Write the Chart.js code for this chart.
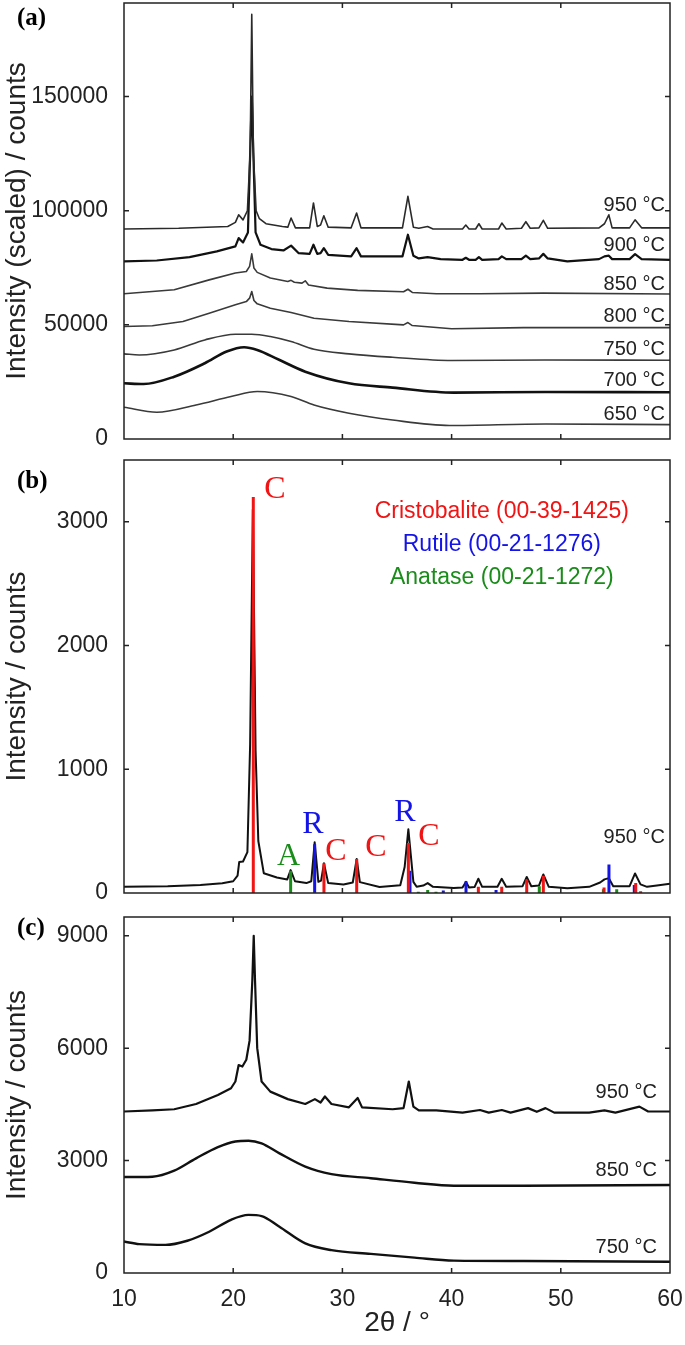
<!DOCTYPE html>
<html>
<head>
<meta charset="utf-8">
<script src="https://cdn.jsdelivr.net/npm/chart.js@4.4.1/dist/chart.umd.min.js"></script>
<style>
  body { margin: 0; background: #fff; }
  #wrap { position: relative; width: 685px; height: 1345px; overflow: hidden; }
  .panel { position: absolute; left: 0; width: 685px; }
  .tag { position: absolute; font: bold 25px "Liberation Serif", "Times New Roman", serif; line-height: 1; color: #000; }
</style>
</head>
<body>
<div id="wrap">
  <div class="panel" style="top:0;height:455px"><canvas id="chartA"></canvas></div>
  <div class="panel" style="top:450px;height:460px"><canvas id="chartB"></canvas></div>
  <div class="panel" style="top:905px;height:440px"><canvas id="chartC"></canvas></div>
  <div class="tag" style="left:17px;top:4px">(a)</div>
  <div class="tag" style="left:17px;top:467px">(b)</div>
  <div class="tag" style="left:17px;top:914px">(c)</div>
</div>
<script>
// ---- panel (a): scaled patterns, 650-950 °C ----
let a950x = [10, 15, 19.5, 20.2, 20.5, 20.9, 21.3, 21.55, 21.7, 21.85, 22.1, 22.4, 23.0, 24.5, 25.0, 25.3, 25.7, 27.0, 27.35, 27.7, 28.0, 28.3, 28.7, 30.8, 31.3, 31.7, 35.5, 36.0, 36.5, 37.0, 37.8, 38.3, 41.0, 41.3, 41.6, 42.2, 42.5, 42.8, 44.3, 44.6, 45.0, 46.4, 46.8, 47.2, 48.0, 48.4, 48.8, 53.5, 54.0, 54.4, 54.7, 56.3, 56.8, 57.4, 60];
let a950y = [92000, 92300, 93100, 94900, 98200, 96000, 100000, 125000, 186000, 125000, 100000, 96500, 94300, 93100, 92800, 96800, 92500, 92500, 103400, 93100, 93700, 97800, 92800, 92500, 99000, 92500, 92500, 106300, 92800, 92300, 93100, 92000, 92000, 93700, 92000, 92000, 94300, 92000, 92000, 94600, 92000, 92300, 95200, 92300, 92500, 95800, 92300, 92500, 94300, 98200, 92500, 92500, 96000, 92500, 92500];

let a900x = [10, 13, 16, 18.5, 20.2, 20.5, 20.9, 21.35, 21.7, 22.05, 22.5, 23.5, 24.6, 25.3, 26.0, 27.0, 27.35, 27.7, 28.0, 28.3, 28.7, 30.8, 31.3, 31.7, 35.5, 36.0, 36.5, 37.0, 37.8, 39.0, 41.0, 41.3, 41.6, 42.2, 42.5, 42.8, 44.3, 44.6, 45.0, 46.4, 46.8, 47.2, 48.0, 48.4, 48.8, 50.6, 53.5, 54.0, 54.4, 54.7, 56.3, 56.8, 57.4, 60];
let a900y = [77800, 78200, 79700, 82200, 84400, 88000, 86100, 90500, 150000, 90500, 85100, 83200, 82600, 84700, 81400, 81100, 85100, 81100, 81400, 83600, 80700, 80000, 83600, 80000, 80000, 89500, 80300, 79100, 79700, 78800, 78500, 79400, 78500, 78500, 79700, 78500, 78800, 80000, 78800, 78800, 80300, 78800, 79100, 81100, 79100, 77800, 78800, 80000, 80300, 78800, 78800, 81000, 78800, 78500];

let a850x = [10, 14.6, 17.8, 20.2, 21.2, 21.5, 21.7, 21.9, 22.2, 23.4, 25.0, 25.3, 25.6, 26.3, 26.6, 26.9, 28.6, 31.4, 35.6, 36.0, 36.4, 38.6, 42.6, 48.4, 60];
let a850y = [63600, 65400, 69700, 72700, 73400, 75600, 81100, 74900, 73000, 70500, 69000, 69500, 68700, 68300, 69300, 67500, 66100, 65100, 64500, 65600, 64200, 63600, 63600, 63900, 63500];

let a800x = [10, 12.6, 15.4, 17.8, 20.2, 21.2, 21.5, 21.7, 21.9, 22.2, 23.4, 25.3, 27.4, 30.6, 35.6, 36.0, 36.4, 40.0, 46.6, 60];
let a800y = [49300, 49600, 51500, 55100, 58800, 60200, 61700, 64600, 60700, 59200, 57300, 55400, 52900, 51500, 50000, 51000, 49700, 48300, 48800, 48800];

let a750x = [10, 11.4, 14.6, 17.4, 20.2, 21.7, 23.4, 25.3, 27.4, 30.6, 34.6, 40.0, 48.6, 60];
let a750y = [37300, 36800, 39000, 43400, 45900, 45900, 44900, 42700, 39300, 37300, 35800, 34400, 34600, 34500];

let a700x = [10, 11.8, 14.6, 17.4, 19.4, 21.0, 22.2, 24.2, 26.6, 30.6, 34.6, 40.2, 48.6, 60];
let a700y = [24400, 24100, 27300, 33200, 38300, 40200, 39000, 34700, 29500, 24400, 22500, 20300, 20600, 20500];

let a650x = [10, 13.0, 16.6, 19.8, 22.2, 25.3, 27.4, 30.6, 34.6, 39.8, 48.6, 60];
let a650y = [13900, 11700, 14900, 18600, 20800, 18600, 14900, 11300, 8300, 5900, 6600, 6300];

let tempsA = ['950 °C', '900 °C', '850 °C', '800 °C', '750 °C', '700 °C', '650 °C'];
let tempYA = [102400, 84650, 67850, 53570, 39250, 25750, 10950];
let yTicksA = [0, 50000, 100000, 150000];

// ---- panel (b): 950 °C pattern with reference cards ----
let b950x = [10, 14, 17, 19, 20.0, 20.4, 20.55, 20.9, 21.3, 21.55, 21.8, 22.05, 22.3, 22.8, 24.0, 24.95, 25.26, 25.66, 26.7, 27.15, 27.46, 27.8, 28.05, 28.31, 28.7, 30.1, 30.95, 31.31, 31.6, 33.4, 35.3, 35.7, 36.04, 36.5, 36.8, 37.4, 37.81, 38.3, 40.2, 41.0, 41.32, 41.6, 42.1, 42.45, 42.8, 44.2, 44.59, 45.0, 46.5, 46.88, 47.3, 48.0, 48.4, 48.9, 50.6, 52.6, 53.6, 54.0, 54.4, 54.8, 56.3, 56.8, 57.3, 57.9, 58.8, 60];
let b950y = [50, 55, 65, 78, 95, 140, 250, 255, 330, 1200, 3100, 1150, 420, 160, 125, 110, 185, 95, 80, 95, 410, 90, 100, 240, 80, 68, 85, 275, 88, 48, 62, 210, 515, 90, 50, 60, 80, 50, 40, 45, 90, 45, 48, 115, 50, 50, 115, 50, 55, 130, 55, 60, 150, 50, 38, 50, 85, 110, 120, 55, 55, 158, 70, 50, 60, 75];

let cristPos = [21.84, 28.31, 31.31, 36.04, 42.45, 44.59, 46.88, 48.40, 53.96, 56.86, 57.31];
let cristH = [3200, 240, 275, 405, 50, 50, 110, 140, 45, 80, 15];
let rutPos = [27.46, 36.19, 39.24, 41.32, 44.07, 54.41, 56.73];
let rutH = [395, 180, 20, 95, 25, 230, 65];
let anaPos = [25.26, 36.95, 37.81, 38.57, 48.03, 53.90, 55.12];
let anaH = [180, 10, 25, 10, 55, 30, 30];

let phaseNames = ['Cristobalite (00-39-1425)', 'Rutile (00-21-1276)', 'Anatase (00-21-1272)'];
let phaseColors = ['#f01414', '#1414e6', '#1a8c1a'];
let phaseNameY = [3080, 2813, 2547];

let markText = ['C', 'A', 'R', 'C', 'C', 'R', 'C'];
let markPhase = [0, 2, 1, 0, 0, 1, 0];
let markX = [23.83, 25.06, 27.31, 29.41, 33.08, 35.73, 37.93];
let markY = [3258, 291, 550, 331, 364, 647, 453];
let yTicksB = [0, 1000, 2000, 3000];

// ---- panel (c): unscaled patterns ----
let c950x = [10, 12.6, 14.6, 16.6, 18.6, 19.8, 20.2, 20.5, 20.84, 21.2, 21.5, 21.75, 21.88, 22.0, 22.2, 22.6, 23.4, 25.0, 26.6, 27.48, 28.0, 28.4, 29.0, 30.6, 31.4, 31.8, 34.6, 35.6, 36.08, 36.5, 37.0, 38.6, 41.0, 42.6, 43.4, 44.6, 45.4, 47.0, 47.8, 48.6, 49.4, 52.6, 54.0, 55.0, 57.2, 58.0, 60];
let c950y = [4310, 4340, 4370, 4510, 4750, 4930, 5110, 5550, 5510, 5690, 6200, 7800, 9000, 7800, 6000, 5110, 4840, 4640, 4510, 4640, 4550, 4710, 4510, 4420, 4670, 4420, 4370, 4400, 5110, 4440, 4340, 4340, 4280, 4350, 4280, 4350, 4280, 4400, 4300, 4400, 4280, 4280, 4340, 4280, 4440, 4310, 4310];

let c850x = [10, 12.6, 14.6, 16.6, 18.6, 20.2, 21.4, 22.6, 24.2, 26.6, 29.0, 32.6, 36.6, 40.2, 46.6, 60];
let c850y = [2560, 2570, 2730, 3060, 3360, 3510, 3530, 3460, 3200, 2840, 2640, 2530, 2410, 2330, 2330, 2350];

let c750x = [10, 11.4, 13.8, 15.8, 17.8, 19.8, 21.4, 22.6, 24.2, 26.6, 29.0, 32.6, 36.6, 40.2, 46.6, 60];
let c750y = [840, 770, 750, 860, 1100, 1420, 1550, 1520, 1240, 790, 610, 510, 410, 330, 320, 300];

let tempsC = ['950 °C', '850 °C', '750 °C'];
let tempYC = [4808, 2724, 668];
let yTicksC = [0, 3000, 6000, 9000];
let xTicks = [10, 20, 30, 40, 50, 60];

const FONT = '"Liberation Sans", Arial, Helvetica, sans-serif';
const SERIF = '"Liberation Serif", "Times New Roman", serif';
const INK = '#222';

pts = (xs, ys) => xs.map((x, i) => ({ x: x, y: ys[i] }));

// each reference line goes 0 -> height, then a null to break the path
sticks = (pos, h) => {
  let out = [];
  pos.forEach((p, i) => { out.push({ x: p, y: 0 }, { x: p, y: h[i] }, { x: p, y: null }); });
  return out;
}

curve = (xs, ys, width, color, smooth) => ({
  data: pts(xs, ys),
  borderColor: color,
  borderWidth: width,
  pointRadius: 0,
  tension: 0,
  cubicInterpolationMode: smooth ? 'monotone' : 'default',
  borderJoinStyle: 'round',
  fill: false
});

stickSet = (pos, h, color) => ({
  data: sticks(pos, h),
  borderColor: color,
  borderWidth: 3,
  pointRadius: 0,
  spanGaps: false,
  fill: false
});

// box round the plot area, inward tick marks, and text placed in data units
const frame = {
  id: 'frame',
  afterDatasetsDraw(chart, args, opts) {
    const { ctx, chartArea: a, scales: { x, y } } = chart;
    ctx.save();
    ctx.strokeStyle = INK;
    ctx.lineWidth = 1.5;
    ctx.strokeRect(a.left, a.top, a.right - a.left, a.bottom - a.top);
    ctx.beginPath();
    x.ticks.forEach(t => {
      let px = x.getPixelForValue(t.value);
      if (px <= a.left + 1 || px >= a.right - 1) return;
      ctx.moveTo(px, a.bottom); ctx.lineTo(px, a.bottom - 5);
      ctx.moveTo(px, a.top); ctx.lineTo(px, a.top + 5);
    });
    y.ticks.forEach(t => {
      let py = y.getPixelForValue(t.value);
      if (py >= a.bottom - 1 || py <= a.top + 1) return;
      ctx.moveTo(a.left, py); ctx.lineTo(a.left + 5, py);
      ctx.moveTo(a.right, py); ctx.lineTo(a.right - 5, py);
    });
    ctx.stroke();
    (opts.texts || []).forEach(t => {
      ctx.font = t.font;
      ctx.fillStyle = t.color;
      ctx.textAlign = t.align || 'center';
      ctx.textBaseline = 'middle';
      ctx.fillText(t.text, x.getPixelForValue(t.x), y.getPixelForValue(t.y));
    });
    ctx.restore();
  }
};

makeOptions = (cfg) => ({
  responsive: true,
  maintainAspectRatio: false,
  animation: false,
  layout: { padding: cfg.padding },
  plugins: {
    legend: { display: false },
    tooltip: { enabled: false },
    frame: { texts: cfg.texts }
  },
  scales: {
    x: {
      type: 'linear',
      min: 10,
      max: 60,
      afterBuildTicks: s => { s.ticks = xTicks.map(v => ({ value: v })); },
      afterFit: s => { s.height = cfg.xHeight; s.paddingLeft = 0; s.paddingRight = 0; },
      grid: { display: false },
      border: { display: false },
      ticks: {
        display: cfg.showX,
        padding: 5,
        color: INK,
        font: { family: FONT, size: 23 }
      },
      title: {
        display: cfg.showX,
        text: '2θ / °',
        color: INK,
        font: { family: FONT, size: 28 },
        padding: { top: 0, bottom: 5 }
      }
    },
    y: {
      min: 0,
      max: cfg.max,
      afterBuildTicks: s => { s.ticks = cfg.yTicks.map(v => ({ value: v })); },
      afterFit: s => { s.width = 124; s.paddingTop = 0; s.paddingBottom = 0; },
      grid: { display: false },
      border: { display: false },
      ticks: {
        padding: 8,
        color: INK,
        font: { family: FONT, size: 23 },
        callback: v => String(v)
      },
      title: {
        display: true,
        text: cfg.title,
        color: INK,
        font: { family: FONT, size: 28 },
        padding: { top: 0, bottom: 0 }
      }
    }
  }
});

let labelFont = '20px ' + FONT;

// (a)
new Chart(document.getElementById('chartA'), {
  type: 'line',
  data: {
    datasets: [
      curve(a950x, a950y, 1.6, '#2a2a2a', false),
      curve(a900x, a900y, 2.2, '#111', false),
      curve(a850x, a850y, 1.6, '#3a3a3a', false),
      curve(a800x, a800y, 1.6, '#3a3a3a', false),
      curve(a750x, a750y, 1.6, '#3a3a3a', true),
      curve(a700x, a700y, 2.6, '#111', true),
      curve(a650x, a650y, 1.6, '#3a3a3a', true)
    ]
  },
  options: makeOptions({
    padding: { top: 3, bottom: 16, left: 0, right: 15 },
    xHeight: 0,
    showX: false,
    max: 191000,
    yTicks: yTicksA,
    title: 'Intensity (scaled) / counts',
    texts: tempsA.map((t, i) => ({ text: t, x: 59.54, y: tempYA[i], color: INK, font: labelFont, align: 'right' }))
  }),
  plugins: [frame]
});

// (b)
let textsB = [{ text: '950 °C', x: 59.54, y: 445, color: INK, font: labelFont, align: 'right' }];
phaseNames.forEach((n, i) => textsB.push({ text: n, x: 44.6, y: phaseNameY[i], color: phaseColors[i], font: '23px ' + FONT }));
markText.forEach((m, i) => textsB.push({ text: m, x: markX[i], y: markY[i], color: phaseColors[markPhase[i]], font: '32px ' + SERIF }));

new Chart(document.getElementById('chartB'), {
  type: 'line',
  data: {
    datasets: [
      stickSet(cristPos, cristH, phaseColors[0]),
      stickSet(rutPos, rutH, phaseColors[1]),
      stickSet(anaPos, anaH, phaseColors[2]),
      curve(b950x, b950y, 2, '#111', false)
    ]
  },
  options: makeOptions({
    padding: { top: 10, bottom: 17, left: 0, right: 15 },
    xHeight: 0,
    showX: false,
    max: 3500,
    yTicks: yTicksB,
    title: 'Intensity / counts',
    texts: textsB
  }),
  plugins: [frame]
});

// (c)
new Chart(document.getElementById('chartC'), {
  type: 'line',
  data: {
    datasets: [
      curve(c950x, c950y, 2.2, '#111', false),
      curve(c850x, c850y, 2.4, '#111', true),
      curve(c750x, c750y, 2.4, '#111', true)
    ]
  },
  options: makeOptions({
    padding: { top: 12, bottom: 0, left: 0, right: 15 },
    xHeight: 72,
    showX: true,
    max: 9500,
    yTicks: yTicksC,
    title: 'Intensity / counts',
    texts: tempsC.map((t, i) => ({ text: t, x: 58.8, y: tempYC[i], color: INK, font: labelFont, align: 'right' }))
  }),
  plugins: [frame]
});
</script>
</body>
</html>
